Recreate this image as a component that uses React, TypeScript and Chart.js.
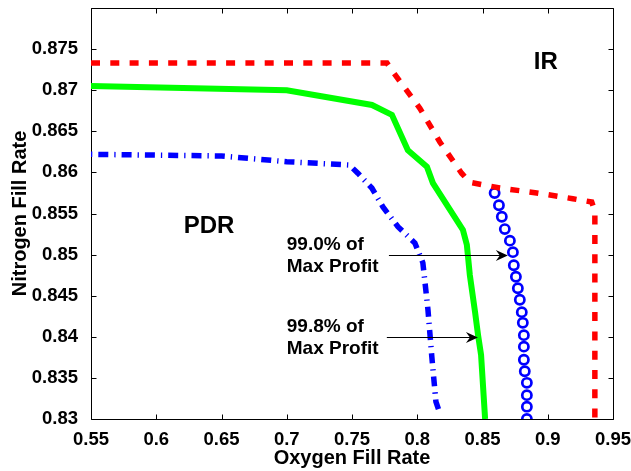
import React, { useEffect, useRef } from 'react';
import { Chart, registerables } from 'chart.js';

Chart.register(...registerables);

// Axis ticks
const xTicks = [0.55, 0.6, 0.65, 0.7, 0.75, 0.8, 0.85, 0.9, 0.95];
const yTicks = [0.83, 0.835, 0.84, 0.845, 0.85, 0.855, 0.86, 0.865, 0.87, 0.875, 0.88];

// IR boundary (red dashed)
const irOxygen = [0.55, 0.7768, 0.7815, 0.802, 0.8173, 0.834, 0.8403, 0.8633, 0.8916, 0.9192, 0.9337, 0.9361, 0.9361];
const irNitrogen = [0.8733, 0.8733, 0.8722, 0.8678, 0.8637, 0.8599, 0.8588, 0.8581, 0.8575, 0.8568, 0.8564, 0.8553, 0.83];

// 99.8% of max profit (green solid)
const p998Oxygen = [0.55, 0.7, 0.7653, 0.7806, 0.7928, 0.8074, 0.812, 0.835, 0.838, 0.8403, 0.8443, 0.8466, 0.8489, 0.852];
const p998Nitrogen = [0.8705, 0.87, 0.8682, 0.867, 0.8627, 0.8607, 0.8587, 0.853, 0.8512, 0.8475, 0.843, 0.8402, 0.8378, 0.83];

// PDR boundary (blue dash-dot)
const pdrOxygen = [0.55, 0.65, 0.7, 0.748, 0.7545, 0.7652, 0.7737, 0.7852, 0.7982, 0.8043, 0.8082, 0.8112, 0.8143, 0.8173];
const pdrNitrogen = [0.8622, 0.862, 0.8613, 0.8609, 0.8599, 0.8581, 0.8558, 0.8534, 0.8514, 0.849, 0.8433, 0.8375, 0.8321, 0.8307];

// 99.0% of max profit (blue circles)
const p990Oxygen = [0.8593, 0.8626, 0.8648, 0.8671, 0.871, 0.8733, 0.874, 0.8756, 0.8771, 0.8786, 0.8801, 0.8809, 0.8817, 0.8817, 0.8817, 0.8824, 0.884, 0.884, 0.884, 0.884];
const p990Nitrogen = [0.8575, 0.856, 0.8546, 0.8531, 0.8517, 0.8503, 0.8487, 0.8473, 0.8459, 0.8445, 0.843, 0.8417, 0.8402, 0.8388, 0.8372, 0.8358, 0.8344, 0.8329, 0.8315, 0.83];

// Arrow annotations: [fromOxygen, toOxygen, nitrogen]
const arrow990 = [0.7783, 0.8694, 0.85];
const arrow998 = [0.7767, 0.8465, 0.84];

const FONT_FAMILY = '"Liberation Sans", Arial, Helvetica, sans-serif';

const toPoints = (xs: number[], ys: number[]) => xs.map((x, i) => ({ x, y: ys[i] }));
const fmt = (v: number) => String(Number(v.toFixed(3)));

// Box around the plot with inward tick marks on all four sides
const framePlugin = {
  id: 'frame',
  beforeDatasetsDraw(chart: any) {
    const { ctx, chartArea: a, scales } = chart;
    const L = Math.round(a.left) + 0.5;
    const R = Math.round(a.right) + 0.5;
    const T = Math.round(a.top) + 0.5;
    const B = Math.round(a.bottom) + 0.5;
    const tl = 5;
    ctx.save();
    ctx.strokeStyle = '#000';
    ctx.lineWidth = 1;
    ctx.beginPath();
    ctx.rect(L, T, R - L, B - T);
    xTicks.forEach((v) => {
      const px = Math.round(scales.x.getPixelForValue(v)) + 0.5;
      ctx.moveTo(px, B);
      ctx.lineTo(px, B - tl);
      ctx.moveTo(px, T);
      ctx.lineTo(px, T + tl);
    });
    yTicks.forEach((v) => {
      const py = Math.round(scales.y.getPixelForValue(v)) + 0.5;
      ctx.moveTo(L, py);
      ctx.lineTo(L + tl, py);
      ctx.moveTo(R, py);
      ctx.lineTo(R - tl, py);
    });
    ctx.stroke();
    ctx.restore();
  },
  afterDatasetsDraw(chart: any) {
    const { ctx, scales } = chart;
    const X = (v: number) => scales.x.getPixelForValue(v);
    const Y = (v: number) => scales.y.getPixelForValue(v);
    ctx.save();
    ctx.fillStyle = '#000';
    ctx.textBaseline = 'middle';

    ctx.font = `bold 24px ${FONT_FAMILY}`;
    ctx.textAlign = 'center';
    ctx.fillText('IR', X(0.8985), Y(0.8734));
    ctx.fillText('PDR', X(0.6404), Y(0.8534));

    ctx.font = `bold 19px ${FONT_FAMILY}`;
    ctx.textAlign = 'left';
    ctx.fillText('99.0% of', X(0.7), Y(0.8512));
    ctx.fillText('Max Profit', X(0.7), Y(0.8485));
    ctx.fillText('99.8% of', X(0.7), Y(0.8412));
    ctx.fillText('Max Profit', X(0.7), Y(0.8386));

    const drawArrow = (a: number[]) => {
      const x1 = X(a[0]);
      const x2 = X(a[1]);
      const y = Math.round(Y(a[2])) + 0.5;
      ctx.strokeStyle = '#000';
      ctx.lineWidth = 1;
      ctx.beginPath();
      ctx.moveTo(x1, y);
      ctx.lineTo(x2 - 6, y);
      ctx.stroke();
      ctx.beginPath();
      ctx.moveTo(x2, y);
      ctx.lineTo(x2 - 12, y - 5.5);
      ctx.lineTo(x2 - 8, y);
      ctx.lineTo(x2 - 12, y + 5.5);
      ctx.closePath();
      ctx.fill();
    };
    drawArrow(arrow990);
    drawArrow(arrow998);
    ctx.restore();
  },
};

export default function App() {
  const canvasRef = useRef<HTMLCanvasElement | null>(null);

  useEffect(() => {
    const canvas = canvasRef.current;
    if (!canvas) return;
    const tickFont = { family: FONT_FAMILY, size: 18.5, weight: 'bold' as const };
    const titleFont = { family: FONT_FAMILY, size: 20, weight: 'bold' as const };

    const chart = new Chart(canvas, {
      type: 'scatter',
      data: {
        datasets: [
          {
            label: 'IR',
            data: toPoints(irOxygen, irNitrogen),
            showLine: true,
            borderColor: '#ff0000',
            borderWidth: 5.5,
            borderDash: [9, 10.3],
            borderCapStyle: 'butt',
            pointRadius: 0,
          },
          {
            label: '99.8% of Max Profit',
            data: toPoints(p998Oxygen, p998Nitrogen),
            showLine: true,
            borderColor: '#00ff00',
            borderWidth: 6,
            pointRadius: 0,
          },
          {
            label: 'PDR',
            data: toPoints(pdrOxygen, pdrNitrogen),
            showLine: true,
            borderColor: '#0000ff',
            borderWidth: 5.5,
            borderDash: [10, 6, 1.3, 6],
            borderDashOffset: 16,
            borderCapStyle: 'butt',
            pointRadius: 0,
          },
          {
            label: '99.0% of Max Profit',
            data: toPoints(p990Oxygen, p990Nitrogen),
            showLine: false,
            borderColor: '#0000ff',
            backgroundColor: 'rgba(0,0,0,0)',
            borderWidth: 2.7,
            pointRadius: 4.6,
            pointStyle: 'circle',
          },
        ],
      },
      options: {
        responsive: false,
        animation: false,
        layout: { padding: { top: 8, right: 18, left: 0, bottom: 0 } },
        plugins: {
          legend: { display: false },
          tooltip: { enabled: false },
        },
        scales: {
          x: {
            type: 'linear',
            position: 'bottom',
            min: 0.55,
            max: 0.95,
            grid: { display: false },
            border: { display: false },
            ticks: {
              color: '#000',
              font: tickFont,
              padding: 2,
              autoSkip: false,
              maxRotation: 0,
              callback: (v: any) => fmt(Number(v)),
            },
            afterBuildTicks: (scale: any) => {
              scale.ticks = xTicks.map((value) => ({ value }));
            },
            afterFit: (scale: any) => {
              scale.height = 52;
              scale.paddingLeft = 0;
              scale.paddingRight = 0;
            },
            title: {
              display: true,
              text: 'Oxygen Fill Rate',
              color: '#000',
              font: titleFont,
              padding: { top: 0, bottom: 1 },
            },
          },
          y: {
            type: 'linear',
            position: 'left',
            min: 0.83,
            max: 0.88,
            grid: { display: false },
            border: { display: false },
            ticks: {
              color: '#000',
              font: tickFont,
              padding: 5,
              autoSkip: false,
              callback: (v: any) => (Math.abs(Number(v) - 0.88) < 1e-9 ? '' : fmt(Number(v))),
            },
            afterBuildTicks: (scale: any) => {
              scale.ticks = yTicks.map((value) => ({ value }));
            },
            afterFit: (scale: any) => {
              scale.width = 91;
              scale.paddingTop = 0;
              scale.paddingBottom = 0;
            },
            title: {
              display: true,
              text: 'Nitrogen Fill Rate',
              color: '#000',
              font: titleFont,
              padding: { top: 8, bottom: 0 },
            },
          },
        },
      },
      plugins: [framePlugin],
    });

    return () => chart.destroy();
  }, []);

  return (
    <div style={{ position: 'fixed', left: 0, top: 0, width: 631, height: 471, background: '#fff' }}>
      <canvas ref={canvasRef} width={631} height={471} style={{ display: 'block' }} />
    </div>
  );
}
